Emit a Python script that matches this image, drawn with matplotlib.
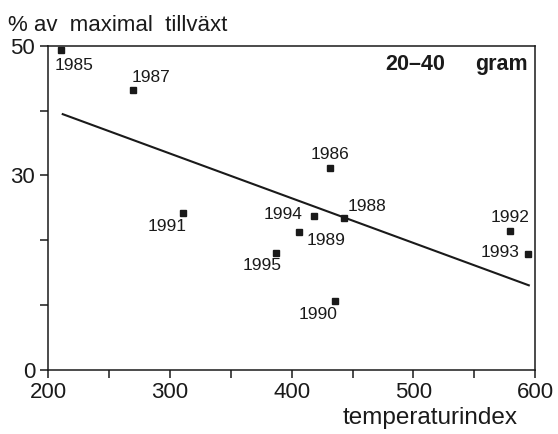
import matplotlib
matplotlib.use("Agg")
import matplotlib.pyplot as plt

plt.rcParams['font.family'] = ['Liberation Sans', 'DejaVu Sans']

years = ['1985', '1986', '1987', '1988', '1989', '1990', '1991', '1992', '1993', '1994', '1995']
temp_index = [210.4, 431.3, 269.4, 442.8, 406.0, 435.4, 310.5, 579.4, 594.5, 418.4, 387.4]
growth_pct = [49.4, 31.1, 43.2, 23.5, 21.3, 10.6, 24.2, 21.5, 17.9, 23.8, 18.1]

fit_x = [210.9, 595.7]
fit_y = [39.5, 13.0]

x_ticks = [200, 250, 300, 350, 400, 450, 500, 550, 600]
x_tick_labels = ['200', '', '300', '', '400', '', '500', '', '600']
y_ticks = [0, 10, 20, 30, 40, 50]
y_tick_labels = ['0', '', '', '30', '', '50']

# label placement: (dx px, dy px, ha, va)
label_pos = {
    '1985': (-7, -8, 'left', 'top'),
    '1986': (0, 6, 'center', 'bottom'),
    '1987': (-1, 5, 'left', 'bottom'),
    '1988': (4, 4, 'left', 'bottom'),
    '1989': (8, -1, 'left', 'top'),
    '1990': (3, -6, 'right', 'top'),
    '1991': (4, -6, 'right', 'top'),
    '1992': (0, 6, 'center', 'bottom'),
    '1993': (-9, 1, 'right', 'center'),
    '1994': (-12, 1, 'right', 'center'),
    '1995': (5, -5, 'right', 'top'),
}

W, H = 558, 434
fig = plt.figure(figsize=(W / 100, H / 100), dpi=100)
fig.patch.set_facecolor('white')
ax = fig.add_axes([0.0869, 0.1475, 0.8719, 0.7472])

ax.plot(fit_x, fit_y, color='#1a1a1a', lw=1.5, solid_capstyle='butt')
ax.plot(temp_index, growth_pct, 's', color='#1a1a1a', ms=3.8, ls='none')

for yr, xv, yv in zip(years, temp_index, growth_pct):
    dx, dy, ha, va = label_pos[yr]
    ax.annotate(yr, (xv, yv), xytext=(dx, dy), textcoords='offset pixels',
                ha=ha, va=va, fontsize=12.5, color='#1a1a1a')

ax.set_xlim(200, 600)
ax.set_ylim(0, 50)
ax.set_xticks(x_ticks)
ax.set_xticklabels(x_tick_labels)
ax.set_yticks(y_ticks)
ax.set_yticklabels(y_tick_labels)
ax.tick_params(axis='both', direction='out', length=5.5, width=1.1, color='#1a1a1a',
               labelsize=16, labelcolor='#1a1a1a')
ax.tick_params(axis='x', pad=3)
ax.tick_params(axis='y', pad=4)
for s in ax.spines.values():
    s.set_linewidth(1.1)
    s.set_color('#1a1a1a')

ax.text((445 - 48.5) / 486.5, (370 - 70) / 324.3, '20–40', transform=ax.transAxes,
        ha='right', va='baseline', fontsize=15.5, fontweight='bold', color='#1a1a1a')
ax.text((528 - 48.5) / 486.5, (370 - 70) / 324.3, 'gram', transform=ax.transAxes,
        ha='right', va='baseline', fontsize=15.5, fontweight='bold', color='#1a1a1a')

fig.text(8 / W, 1 - 31 / H, '% av  maximal  tillväxt', ha='left', va='baseline',
         fontsize=16, color='#1a1a1a')
fig.text(343 / W, 1 - 424 / H, 'temperaturindex', ha='left', va='baseline',
         fontsize=17.5, color='#1a1a1a')

fig.savefig('out.png', dpi=100, facecolor='white')
